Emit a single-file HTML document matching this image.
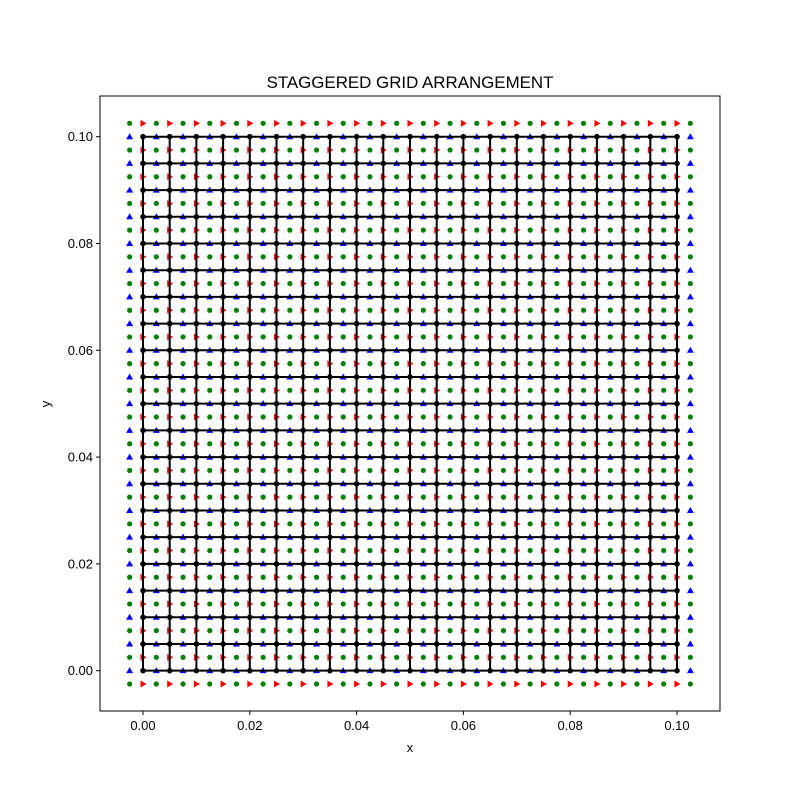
<!DOCTYPE html>
<html><head><meta charset="utf-8"><style>
body{margin:0;background:#fff}
svg{display:block;font-family:"Liberation Sans","DejaVu Sans",sans-serif}
</style></head><body>
<svg id="c" width="800" height="800" viewBox="0 0 800 800">
<rect width="800" height="800" fill="#fff"/>
<text x="410" y="88" text-anchor="middle" font-size="16.9">STAGGERED GRID ARRANGEMENT</text>
<g id="marks"></g>
<rect x="100" y="96" width="620" height="615" fill="none" stroke="#000" stroke-width="1"/>
<g id="axes"></g>
<text x="410" y="752" text-anchor="middle" font-size="13">x</text>
<text x="50" y="404" text-anchor="middle" font-size="13" transform="rotate(-90 50 404)">y</text>
</svg>
<script>
const xTicks=[0,0.02,0.04,0.06,0.08,0.10];
const yTicks=[0,0.02,0.04,0.06,0.08,0.10];
const tickLabels=["0.00","0.02","0.04","0.06","0.08","0.10"];
const gridNodes=[0,0.005,0.01,0.015,0.02,0.025,0.03,0.035,0.04,0.045,0.05,0.055,0.06,0.065,0.07,0.075,0.08,0.085,0.09,0.095,0.1];
const cellCenters=[-0.0025,0.0025,0.0075,0.0125,0.0175,0.0225,0.0275,0.0325,0.0375,0.0425,0.0475,0.0525,0.0575,0.0625,0.0675,0.0725,0.0775,0.0825,0.0875,0.0925,0.0975,0.1025];
const xMin=-0.00805,xMax=0.10805,yMin=-0.00755,yMax=0.10762;
const L=100,R=720,T=96,B=711;
const sx=v=>L+(v-xMin)/(xMax-xMin)*(R-L);
const sy=v=>B-(v-yMin)/(yMax-yMin)*(B-T);
const NS="http://www.w3.org/2000/svg";
const g=document.getElementById('marks'),ax=document.getElementById('axes');
function mk(tag,attrs,parent){const e=document.createElementNS(NS,tag);for(const k in attrs)e.setAttribute(k,attrs[k]);parent.appendChild(e);return e;}
cellCenters.forEach(x=>cellCenters.forEach(y=>{
 const e=mk('circle',{cx:sx(x),cy:sy(y),r:2.6,fill:'#008000'},g);
 
 
}));
gridNodes.forEach(x=>cellCenters.forEach(y=>{
 const X=sx(x),Y=sy(y);
 const e=mk('polygon',{points:`${X+3.5},${Y} ${X-2.5},${Y-3.5} ${X-2.5},${Y+3.5}`,fill:'#ff0000'},g);
 
 
}));
cellCenters.forEach(x=>gridNodes.forEach(y=>{
 const X=sx(x),Y=sy(y);
 const e=mk('polygon',{points:`${X},${Y-3.5} ${X-3.5},${Y+2.5} ${X+3.5},${Y+2.5}`,fill:'#0000ff'},g);
 
 
}));
const x0=sx(gridNodes[0]),x1=sx(gridNodes[gridNodes.length-1]),y0=sy(gridNodes[0]),y1=sy(gridNodes[gridNodes.length-1]);
gridNodes.forEach(v=>{
 const a=mk('line',{x1:sx(v),x2:sx(v),y1:y0,y2:y1,stroke:'#000','stroke-width':2},g);
 
 
 const b=mk('line',{x1:x0,x2:x1,y1:sy(v),y2:sy(v),stroke:'#000','stroke-width':2},g);
 
 
});
gridNodes.forEach(x=>gridNodes.forEach(y=>{
 const e=mk('circle',{cx:sx(x),cy:sy(y),r:2.8,fill:'#000'},g);
 
 
}));
xTicks.forEach((v,i)=>{
 const X=sx(v);
 const t=mk('line',{x1:X,x2:X,y1:B,y2:B+4,stroke:'#000','stroke-width':1},ax);
 
 
 const l=mk('text',{x:X,y:B+19,'text-anchor':'middle','font-size':13},ax);
 l.textContent=tickLabels[i];
 
 
});
yTicks.forEach((v,i)=>{
 const Y=sy(v);
 const t=mk('line',{x1:L-4,x2:L,y1:Y,y2:Y,stroke:'#000','stroke-width':1},ax);
 
 
 const l=mk('text',{x:L-7,y:Y+4.5,'text-anchor':'end','font-size':13},ax);
 l.textContent=tickLabels[i];
 
 
});
</script>
</body></html>
